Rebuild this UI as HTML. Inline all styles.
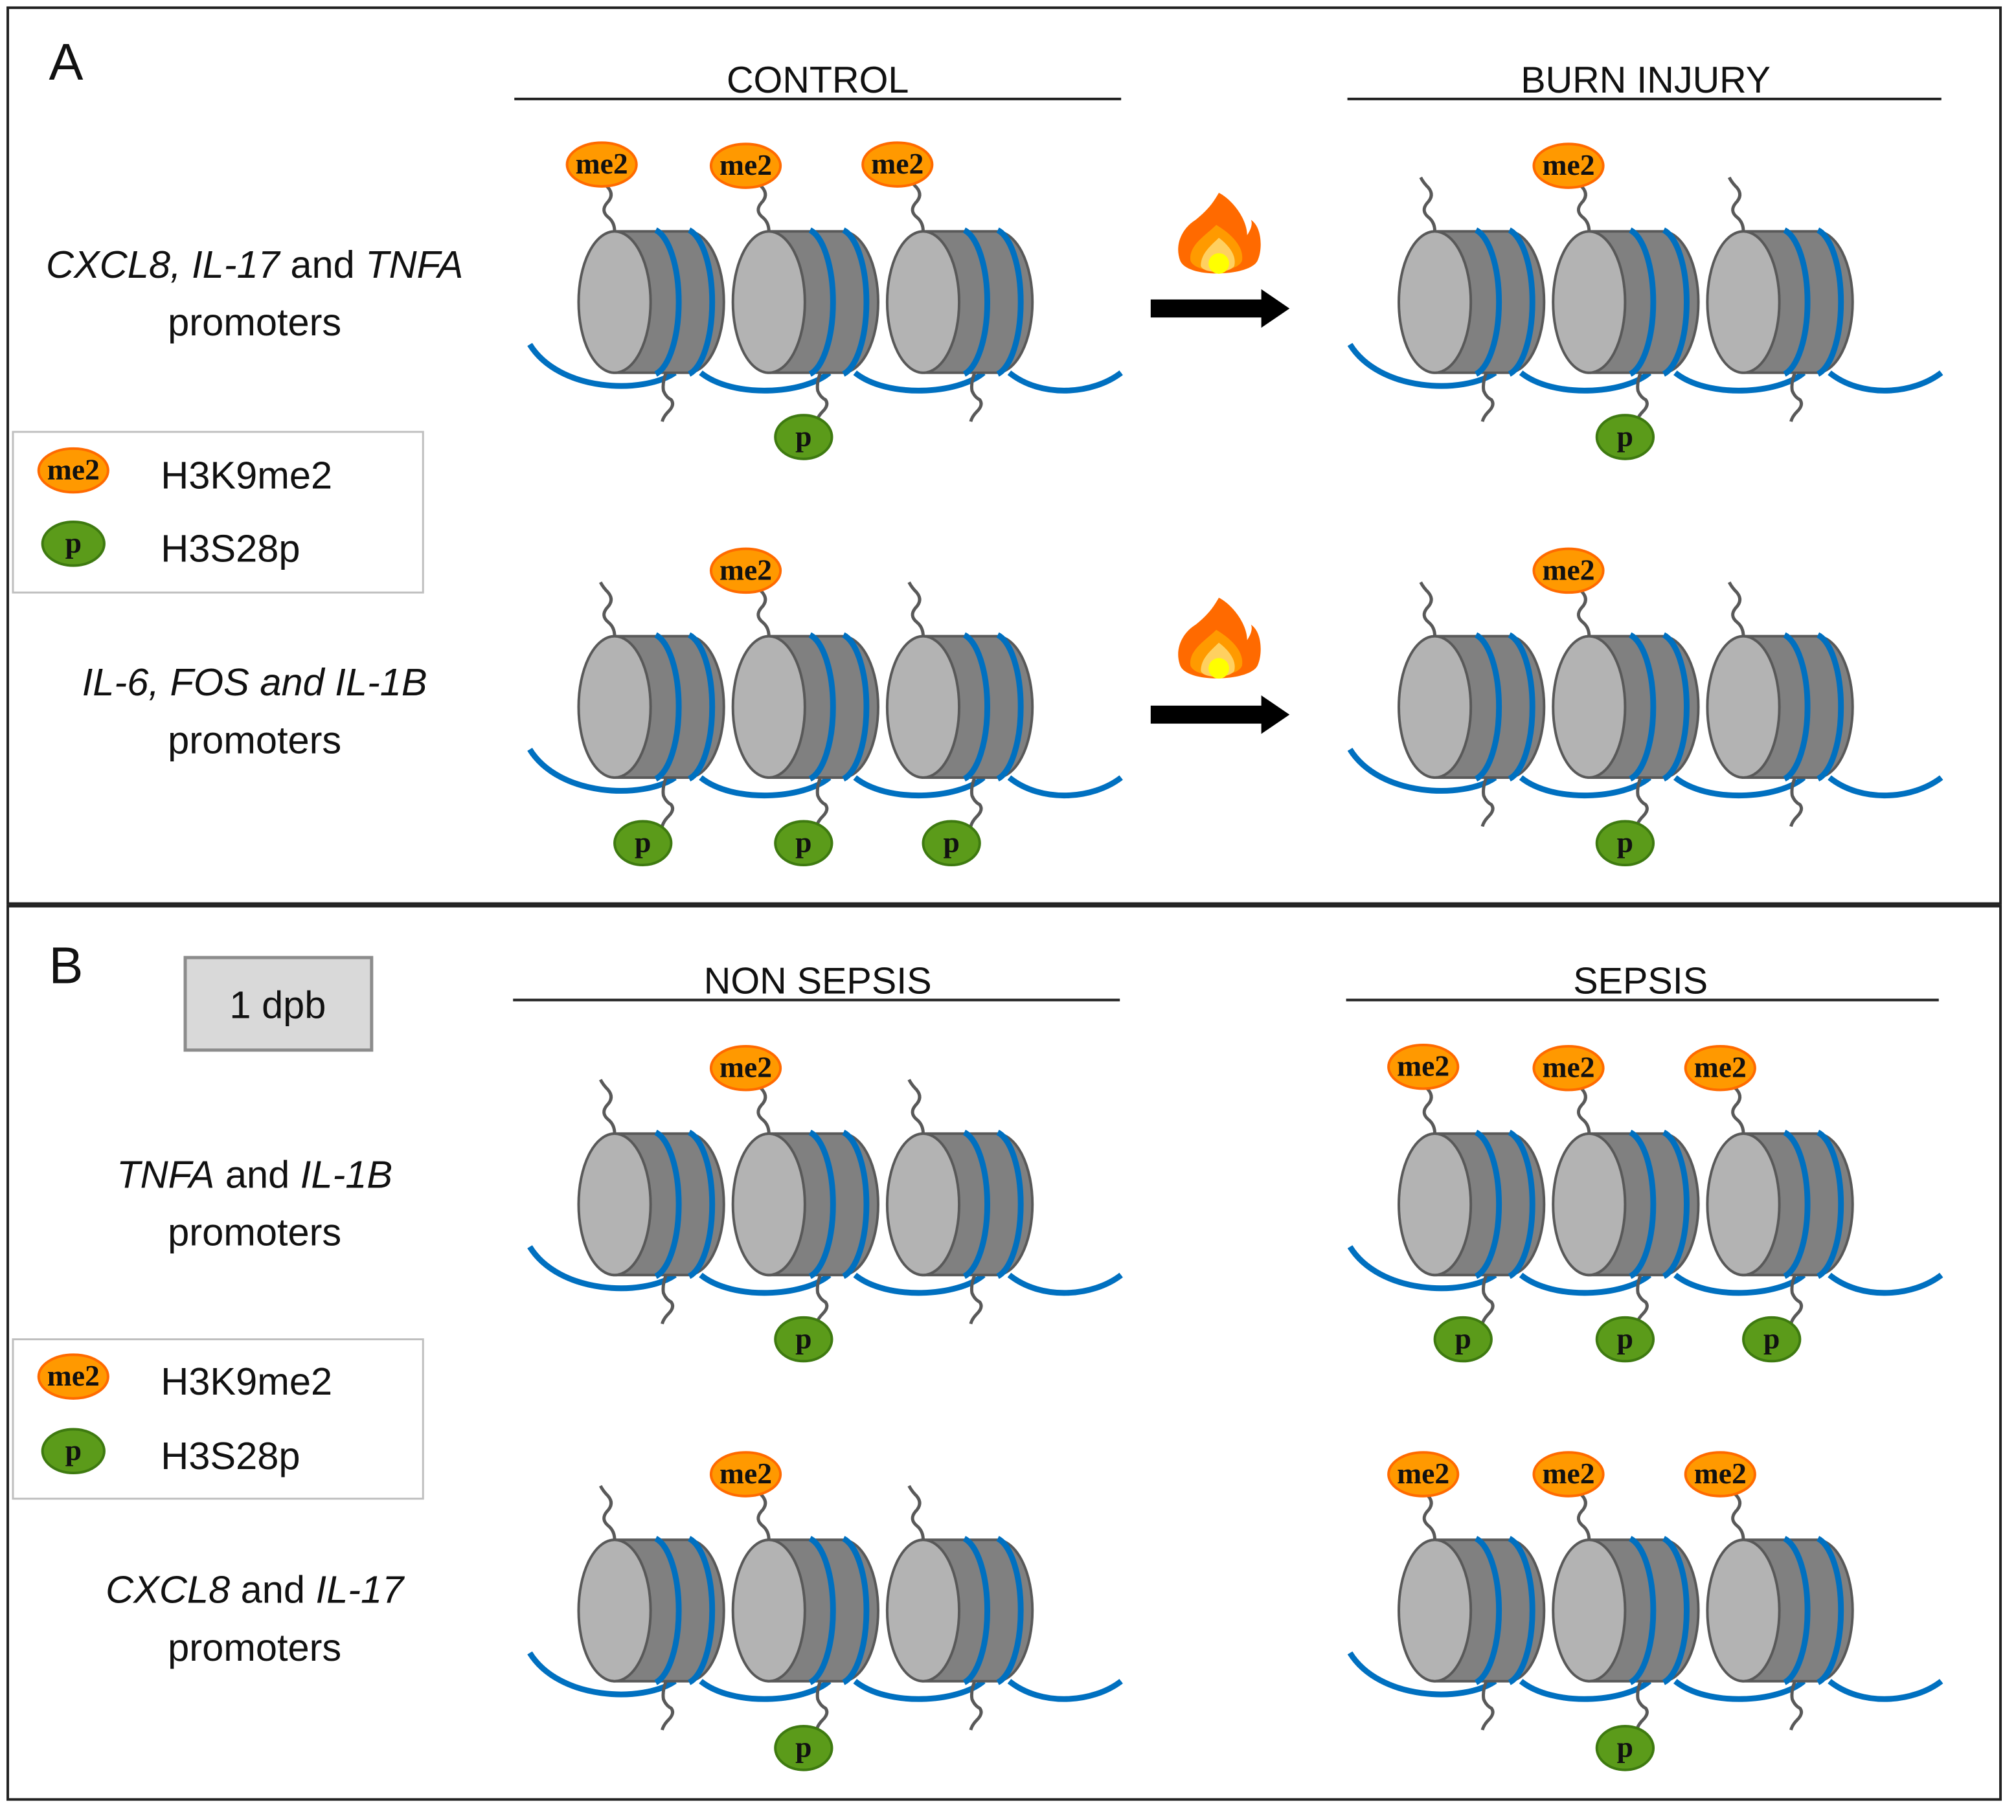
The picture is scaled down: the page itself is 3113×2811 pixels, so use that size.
<!DOCTYPE html>
<html><head><meta charset="utf-8">
<style>
html,body{margin:0;padding:0;background:#fff;}
svg{display:block;}
text{font-family:"Liberation Sans",sans-serif;}
.lbl{font-size:30px;fill:#111;}
.hd{font-size:29px;fill:#111;}
.mk{font-family:"Liberation Serif",serif;font-weight:bold;font-size:23px;fill:#111;}
</style></head>
<body>
<svg width="3113" height="2811" viewBox="0 0 1568 1416" xmlns="http://www.w3.org/2000/svg">
<defs>
<g id="nuc">
  <path d="M28,-55 L85,-55 A28,55 0 0 1 85,55 L28,55 Z" fill="#808080" stroke="#595959" stroke-width="2"/>
  <ellipse cx="28" cy="0" rx="28" ry="55" fill="#b3b3b3" stroke="#595959" stroke-width="2"/>
  <path d="M60,-56 A22,57 0 0 1 60,56" fill="none" stroke="#0070c0" stroke-width="4.5"/>
  <path d="M86,-56 A22,57 0 0 1 86,56" fill="none" stroke="#0070c0" stroke-width="4.5"/>
  <path d="M28,-55 q0,-7 -5,-11 q-6,-5 -1,-11 q6,-6 1,-12 q-4,-4 -6,-8" fill="none" stroke="#595959" stroke-width="2.5"/>
  <path d="M68,55 q-3,8 -2,14 q2,5 6,7 q3,4 -2,9 q-4,4 -5,8" fill="none" stroke="#595959" stroke-width="2.5"/>
</g>
<g id="tri">
  <path d="M-38,33 C-15,70 50,72 75,55 M95,55 C120,75 175,72 195,55 M215,55 C240,75 295,72 315,55 M335,55 C360,75 400,72 422,55" fill="none" stroke="#0070c0" stroke-width="4.5"/>
  <use href="#nuc" x="0"/>
  <use href="#nuc" x="120"/>
  <use href="#nuc" x="240"/>
</g>
<g id="fire">
  <path d="M0,-35 C10,-30 22,-15 22,-2 C26,-8 26,-12 25,-14 C34,-8 34,10 30,18 C24,30 -24,32 -30,18 C-35,5 -28,-8 -18,-14 C-8,-22 -4,-28 0,-35 Z" fill="#ff6a00"/>
  <path d="M-2,-10 C8,-4 20,6 18,18 C14,28 -18,28 -22,18 C-24,6 -10,-2 -2,-10 Z" fill="#ff9a00"/>
  <path d="M0,0 C8,6 14,14 12,22 C8,28 -12,28 -14,22 C-14,12 -6,6 0,0 Z" fill="#ffd060"/>
  <ellipse cx="0" cy="20" rx="8" ry="8" fill="#ffff00"/>
</g>
<g id="arr">
  <rect x="0" y="-7" width="90" height="14" fill="#000"/>
  <path d="M86,-15 L108,0 L86,15 Z" fill="#000"/>
</g>
</defs>

<rect x="6" y="6" width="1550" height="697" fill="none" stroke="#222" stroke-width="2"/>
<rect x="6" y="705" width="1550" height="695" fill="none" stroke="#222" stroke-width="2"/>
<text x="38" y="62" font-size="40" fill="#111">A</text>
<text x="38" y="765" font-size="40" fill="#111">B</text>

<text class="hd" x="636" y="72" text-anchor="middle">CONTROL</text>
<line x1="400" y1="77" x2="872" y2="77" stroke="#222" stroke-width="2"/>
<text class="hd" x="1280" y="72" text-anchor="middle">BURN INJURY</text>
<line x1="1048" y1="77" x2="1510" y2="77" stroke="#222" stroke-width="2"/>
<text class="hd" x="636" y="773" text-anchor="middle">NON SEPSIS</text>
<line x1="399" y1="778" x2="871" y2="778" stroke="#222" stroke-width="2"/>
<text class="hd" x="1276" y="773" text-anchor="middle">SEPSIS</text>
<line x1="1047" y1="778" x2="1508" y2="778" stroke="#222" stroke-width="2"/>

<text class="lbl" x="198" y="216" text-anchor="middle"><tspan font-style="italic">CXCL8, IL-17</tspan> and <tspan font-style="italic">TNFA</tspan></text>
<text class="lbl" x="198" y="261" text-anchor="middle">promoters</text>
<text class="lbl" x="198" y="541" text-anchor="middle" font-style="italic">IL-6, FOS and IL-1B</text>
<text class="lbl" x="198" y="586" text-anchor="middle">promoters</text>
<text class="lbl" x="198" y="924" text-anchor="middle"><tspan font-style="italic">TNFA</tspan> and <tspan font-style="italic">IL-1B</tspan></text>
<text class="lbl" x="198" y="969" text-anchor="middle">promoters</text>
<text class="lbl" x="198" y="1247" text-anchor="middle"><tspan font-style="italic">CXCL8</tspan> and <tspan font-style="italic">IL-17</tspan></text>
<text class="lbl" x="198" y="1292" text-anchor="middle">promoters</text>

<rect x="144" y="745" width="145" height="72" fill="#d9d9d9" stroke="#8c8c8c" stroke-width="2.5"/>
<text class="lbl" x="216" y="792" text-anchor="middle">1 dpb</text>

<rect x="10" y="336" width="319" height="125" fill="#fff" stroke="#bfbfbf" stroke-width="1.5"/>
<ellipse cx="57" cy="366" rx="27" ry="17" fill="#ff9900" stroke="#ff6a00" stroke-width="2"/>
<text class="mk" x="57" y="373" text-anchor="middle">me2</text>
<text class="lbl" x="125" y="380">H3K9me2</text>
<ellipse cx="57" cy="423" rx="24" ry="17" fill="#5b9b1a" stroke="#3e7a10" stroke-width="2"/>
<text class="mk" x="57" y="430" text-anchor="middle">p</text>
<text class="lbl" x="125" y="437">H3S28p</text>

<rect x="10" y="1042" width="319" height="124" fill="#fff" stroke="#bfbfbf" stroke-width="1.5"/>
<ellipse cx="57" cy="1071" rx="27" ry="17" fill="#ff9900" stroke="#ff6a00" stroke-width="2"/>
<text class="mk" x="57" y="1078" text-anchor="middle">me2</text>
<text class="lbl" x="125" y="1085">H3K9me2</text>
<ellipse cx="57" cy="1129" rx="24" ry="17" fill="#5b9b1a" stroke="#3e7a10" stroke-width="2"/>
<text class="mk" x="57" y="1136" text-anchor="middle">p</text>
<text class="lbl" x="125" y="1143">H3S28p</text>

<use href="#tri" transform="translate(450,235)"/>
<use href="#tri" transform="translate(1088,235)"/>
<use href="#tri" transform="translate(450,550)"/>
<use href="#tri" transform="translate(1088,550)"/>
<use href="#tri" transform="translate(450,937)"/>
<use href="#tri" transform="translate(1088,937)"/>
<use href="#tri" transform="translate(450,1253)"/>
<use href="#tri" transform="translate(1088,1253)"/>

<use href="#fire" transform="translate(948,185)"/>
<use href="#arr" transform="translate(895,240)"/>
<use href="#fire" transform="translate(948,500)"/>
<use href="#arr" transform="translate(895,556)"/>

<g stroke="#ff6a00" stroke-width="2" fill="#ff9900">
<ellipse cx="468" cy="128" rx="27" ry="17"/><ellipse cx="580" cy="129" rx="27" ry="17"/><ellipse cx="698" cy="128" rx="27" ry="17"/>
<ellipse cx="1220" cy="129" rx="27" ry="17"/>
<ellipse cx="580" cy="444" rx="27" ry="17"/><ellipse cx="1220" cy="444" rx="27" ry="17"/>
<ellipse cx="580" cy="831" rx="27" ry="17"/>
<ellipse cx="1107" cy="830" rx="27" ry="17"/><ellipse cx="1220" cy="831" rx="27" ry="17"/><ellipse cx="1338" cy="831" rx="27" ry="17"/>
<ellipse cx="580" cy="1147" rx="27" ry="17"/>
<ellipse cx="1107" cy="1147" rx="27" ry="17"/><ellipse cx="1220" cy="1147" rx="27" ry="17"/><ellipse cx="1338" cy="1147" rx="27" ry="17"/>
</g>
<g text-anchor="middle">
<text class="mk" x="468" y="135">me2</text><text class="mk" x="580" y="136">me2</text><text class="mk" x="698" y="135">me2</text>
<text class="mk" x="1220" y="136">me2</text>
<text class="mk" x="580" y="451">me2</text><text class="mk" x="1220" y="451">me2</text>
<text class="mk" x="580" y="838">me2</text>
<text class="mk" x="1107" y="837">me2</text><text class="mk" x="1220" y="838">me2</text><text class="mk" x="1338" y="838">me2</text>
<text class="mk" x="580" y="1154">me2</text>
<text class="mk" x="1107" y="1154">me2</text><text class="mk" x="1220" y="1154">me2</text><text class="mk" x="1338" y="1154">me2</text>
</g>

<g stroke="#3e7a10" stroke-width="2" fill="#5b9b1a">
<ellipse cx="625" cy="340" rx="22" ry="17"/>
<ellipse cx="1264" cy="340" rx="22" ry="17"/>
<ellipse cx="500" cy="656" rx="22" ry="17"/><ellipse cx="625" cy="656" rx="22" ry="17"/><ellipse cx="740" cy="656" rx="22" ry="17"/>
<ellipse cx="1264" cy="656" rx="22" ry="17"/>
<ellipse cx="625" cy="1042" rx="22" ry="17"/>
<ellipse cx="1138" cy="1042" rx="22" ry="17"/><ellipse cx="1264" cy="1042" rx="22" ry="17"/><ellipse cx="1378" cy="1042" rx="22" ry="17"/>
<ellipse cx="625" cy="1360" rx="22" ry="17"/>
<ellipse cx="1264" cy="1360" rx="22" ry="17"/>
</g>
<g text-anchor="middle">
<text class="mk" x="625" y="347">p</text>
<text class="mk" x="1264" y="347">p</text>
<text class="mk" x="500" y="663">p</text><text class="mk" x="625" y="663">p</text><text class="mk" x="740" y="663">p</text>
<text class="mk" x="1264" y="663">p</text>
<text class="mk" x="625" y="1049">p</text>
<text class="mk" x="1138" y="1049">p</text><text class="mk" x="1264" y="1049">p</text><text class="mk" x="1378" y="1049">p</text>
<text class="mk" x="625" y="1367">p</text>
<text class="mk" x="1264" y="1367">p</text>
</g>
</svg>
</body></html>
